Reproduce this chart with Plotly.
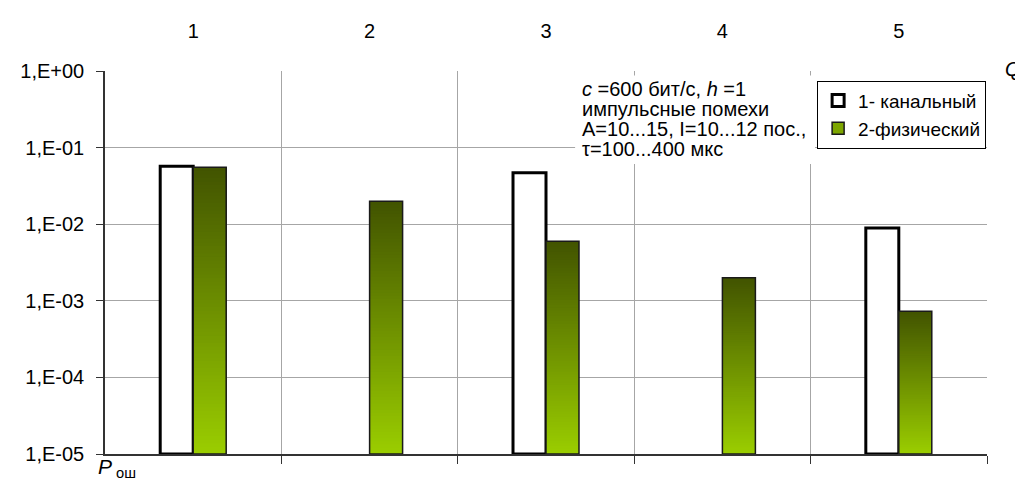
import numpy as np
import plotly.graph_objects as go

categories = [1, 2, 3, 4, 5]
cat_labels = ["1", "2", "3", "4", "5"]
series1_name = "1- канальный"
series2_name = "2-физический"
series1 = [0.057, None, 0.047, None, 0.0089]
series2 = [0.0555, 0.020, 0.006, 0.002, 0.00073]
y_tickvals = [1e0, 1e-1, 1e-2, 1e-3, 1e-4, 1e-5]
y_ticktext = ["1,E+00", "1,E-01", "1,E-02", "1,E-03", "1,E-04", "1,E-05"]
boundaries = [1.5, 2.5, 3.5, 4.5, 5.5]
note_lines = [
    "<i>c</i> =600 бит/с, <i>h</i> =1",
    "импульсные помехи",
    "A=10...15, I=10...12 пос.,",
    "τ=100...400 мкс",
]

YMIN = 1e-5
BW = 0.187
FONT = "Arial, Liberation Sans, sans-serif"
N = 80
dark = np.array([66, 84, 0])
light = np.array([155, 206, 0])

fig = go.Figure()

# white bars
fig.add_trace(go.Bar(
    x=categories,
    y=[None if v is None else v - YMIN for v in series1],
    base=YMIN, offset=-BW, width=BW,
    marker=dict(color="white", line=dict(color="black", width=3)),
    name=series1_name, showlegend=True,
))

# gradient of green bars: overlapping slices, each from its base to the bar top
lo = np.log10(YMIN)
for k in range(N):
    ys, bs = [], []
    for v in series2:
        hi = np.log10(v)
        b = 10 ** (lo + (hi - lo) * k / N)
        bs.append(b)
        ys.append(v - b)
    f = (k + 0.5) / N
    c = light + (dark - light) * f
    col = "rgb(%d,%d,%d)" % tuple(c.astype(int))
    fig.add_trace(go.Bar(
        x=categories, y=ys, base=bs, offset=0, width=BW,
        marker=dict(color=col, line=dict(width=0)),
        showlegend=False, hoverinfo="skip",
    ))

# green outline
fig.add_trace(go.Bar(
    x=categories, y=[v - YMIN for v in series2], base=YMIN, offset=0, width=BW,
    marker=dict(color="rgba(0,0,0,0)", line=dict(color="#1a1a1a", width=1.5)),
    showlegend=False,
))
# legend entry for green
fig.add_trace(go.Bar(
    x=categories, y=[None] * 5, offset=0, width=BW,
    marker=dict(color="#7da600", line=dict(color="#1a1a1a", width=1.5)),
    name=series2_name, showlegend=True,
))
# invisible trace for top axis
fig.add_trace(go.Scatter(x=categories, y=[None] * 5, xaxis="x2", showlegend=False,
                         mode="markers", hoverinfo="skip"))

fig.update_layout(
    width=1015, height=489,
    margin=dict(l=96, r=36, t=53, b=43),
    paper_bgcolor="white", plot_bgcolor="white",
    barmode="overlay",
    font=dict(family=FONT, color="black"),
    xaxis=dict(
        range=[0.5, 5.5], tickvals=boundaries, ticktext=[""] * 5,
        showgrid=True, gridcolor="#a6a6a6", gridwidth=1,
        ticks="outside", ticklen=8, tickcolor="#333", tickwidth=1,
        showline=True, linecolor="#333", linewidth=1.5, zeroline=False,
    ),
    xaxis2=dict(
        overlaying="x", side="top", range=[0.5, 5.5],
        tickvals=categories, ticktext=cat_labels,
        showgrid=False, showline=False, ticks="", zeroline=False,
        tickfont=dict(size=20, family=FONT), ticklabelstandoff=28,
    ),
    yaxis=dict(
        type="log", range=[-5, 0], tickvals=y_tickvals, ticktext=y_ticktext,
        showgrid=True, gridcolor="#a6a6a6", gridwidth=1,
        ticks="outside", ticklen=7, tickcolor="#333",
        showline=True, linecolor="#333", linewidth=1.5, zeroline=False,
        tickfont=dict(size=20, family=FONT), ticklabelstandoff=8,
    ),
    legend=dict(
        x=0.999, y=0.975, xanchor="right", yanchor="top",
        bgcolor="white", bordercolor="black", borderwidth=1,
        font=dict(size=19, family=FONT), itemwidth=30, tracegroupgap=0,
    ),
    showlegend=True,
)

# white box behind the note
fig.add_shape(type="rect", xref="paper", yref="paper",
              x0=0.533, x1=0.805, y0=0.7575, y1=0.988,
              fillcolor="white", line=dict(width=0), layer="above")
note_y = [0.953, 0.901, 0.849, 0.797]
for txt, yy in zip(note_lines, note_y):
    fig.add_annotation(
        x=0.538, y=yy, xref="paper", yref="paper", xanchor="left", yanchor="middle",
        align="left", showarrow=False, text=txt,
        font=dict(size=20, family=FONT),
    )
fig.add_annotation(
    x=1.029, y=1.005, xref="paper", yref="paper", xanchor="center", yanchor="middle",
    showarrow=False, text="<i>Q</i>", font=dict(size=20, family=FONT),
)
fig.add_annotation(
    x=-0.010, y=-0.037, xref="paper", yref="paper", xanchor="left", yanchor="middle",
    showarrow=False, text="<i>P</i><sub>&nbsp;ош</sub>", font=dict(size=21, family=FONT),
)

fig.write_html("out.html")
